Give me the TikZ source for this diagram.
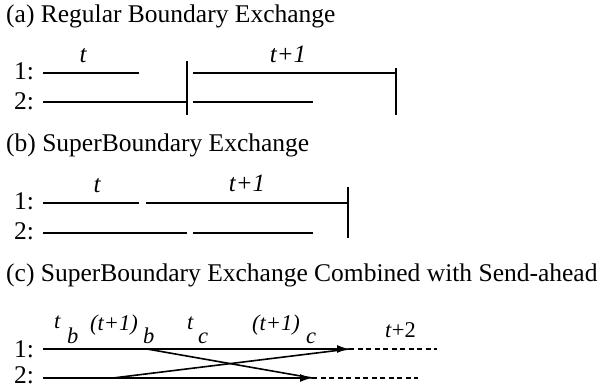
\documentclass[tikz,border=0pt]{standalone}
\usepackage{fontspec}
\setmainfont{Liberation Serif}
\usetikzlibrary{arrows.meta}
\tikzset{
  ttl/.style={anchor=base west, inner sep=0pt, font=\fontsize{25.5}{29}\selectfont},
  rowlab/.style={anchor=base west, inner sep=0pt, font=\fontsize{25.5}{29}\selectfont},
  tlab/.style={anchor=base, inner sep=0pt, font=\fontsize{25}{28}\selectfont\itshape},
  clab/.style={anchor=base west, inner sep=0pt, font=\fontsize{22.5}{26}\selectfont\itshape},
  seg/.style={line width=1.6pt},
  bar/.style={line width=1.9pt},
  arr/.style={line width=1.6pt, -{Latex[length=12pt,width=8pt]}},
  cross/.style={line width=1.6pt},
  dsh/.style={line width=1.3pt, dash pattern=on 5pt off 3.5pt}
}
\begin{document}
\begin{tikzpicture}[x=1pt,y=-1pt]
\useasboundingbox (0,0) rectangle (600,385);
% ---------- (a)
\node[ttl] (ta) at (6,23) {(a) Regular Boundary Exchange};
\node[rowlab] (a1) at (14,80) {1:};
\node[rowlab] (a2) at (14,110) {2:};
\coordinate (a1s) at (43,73); \coordinate (a1e) at (139,73);
\coordinate (a2s) at (43,102); \coordinate (a2e) at (187,102);
\coordinate (abt) at (187,61); \coordinate (abb) at (187,115);
\coordinate (a1s2) at (193,73); \coordinate (a1e2) at (396,73);
\coordinate (a2s2) at (193,102); \coordinate (a2e2) at (313,102);
\coordinate (abt2) at (396,68); \coordinate (abb2) at (396,115);
\draw[seg] (a1s) -- (a1e);
\draw[seg] (a2s) -- (a2e);
\draw[bar] (abt) -- (abb);
\draw[seg] (a1s2) -- (a1e2);
\draw[seg] (a2s2) -- (a2e2);
\draw[bar] (abt2) -- (abb2);
\node[tlab] (lat) at (83,63) {t};
\node[tlab] (lat1) at (288,63) {t+1};
% ---------- (b)
\node[ttl] (tb) at (6,152) {(b) SuperBoundary Exchange};
\node[rowlab] (b1) at (14,210) {1:};
\node[rowlab] (b2) at (14,240) {2:};
\coordinate (b1s) at (43,203); \coordinate (b1e) at (139,203);
\coordinate (b1s2) at (146,203); \coordinate (b1e2) at (348,203);
\coordinate (bbt) at (348,187); \coordinate (bbb) at (348,238);
\coordinate (b2s) at (43,233); \coordinate (b2e) at (187,233);
\coordinate (b2s2) at (193,233); \coordinate (b2e2) at (313,233);
\draw[seg] (b1s) -- (b1e);
\draw[seg] (b1s2) -- (b1e2);
\draw[bar] (bbt) -- (bbb);
\draw[seg] (b2s) -- (b2e);
\draw[seg] (b2s2) -- (b2e2);
\node[tlab] (lbt) at (97,193) {t};
\node[tlab] (lbt1) at (247,192) {t+1};
% ---------- (c)
\node[ttl] (tc) at (6,281) {(c) SuperBoundary Exchange Combined with Send-ahead};
\node[rowlab] (c1) at (14,357) {1:};
\node[rowlab] (c2) at (14,383) {2:};
\coordinate (c1s) at (43,349); \coordinate (c1e) at (349,349); \coordinate (c1d) at (437,349);
\coordinate (c2s) at (43,378); \coordinate (c2e) at (312,378); \coordinate (c2d) at (418,378);
\coordinate (x1) at (147,349); \coordinate (x2) at (113,378);
\draw[cross] (x1) -- (c2e);
\draw[cross] (x2) -- (c1e);
\draw[arr] (c1s) -- (c1e);
\draw[arr] (c2s) -- (c2e);
\draw[dsh] (c1e) -- (c1d);
\draw[dsh] (c2e) -- (c2d);
\node[clab] (ltb) at (54,328) {t};
\node[clab] (ltbs) at (67,343) {b};
\node[clab] (lt1b) at (90,330) {(t+1)};
\node[clab] (lt1bs) at (143,343) {b};
\node[clab] (ltc) at (187,329) {t};
\node[clab] (ltcs) at (198,343) {c};
\node[clab] (lt1c) at (252,330) {(t+1)};
\node[clab] (lt1cs) at (306,343) {c};
\node[clab] (lt2) at (385,337) {t\textup{+2}};
\end{tikzpicture}
\end{document}
